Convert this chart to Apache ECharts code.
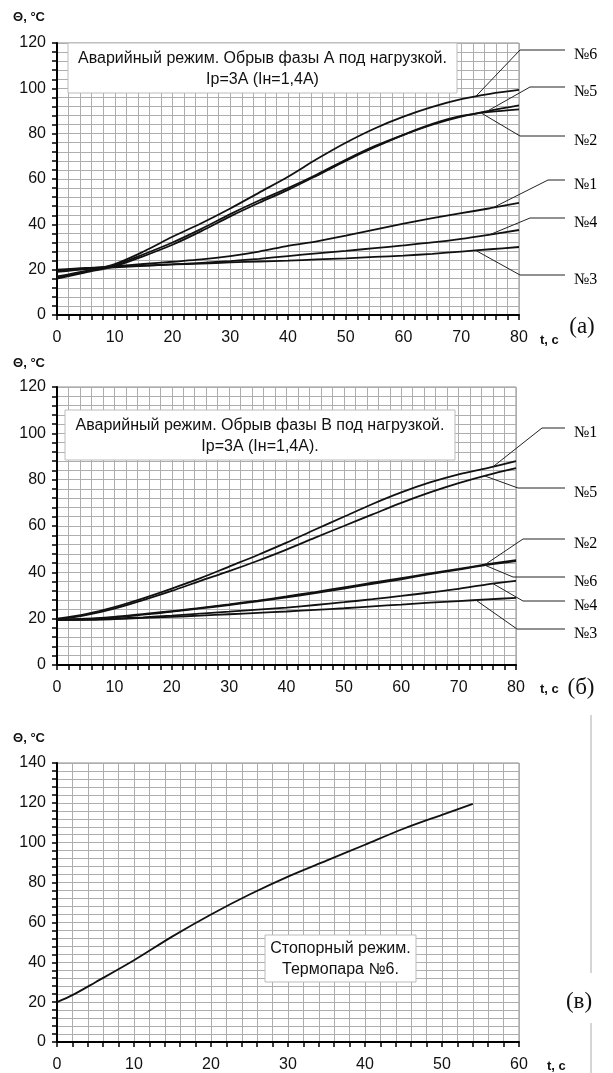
<!DOCTYPE html>
<html>
<head>
<meta charset="utf-8">
<script src="https://cdn.jsdelivr.net/npm/echarts@6/dist/echarts.min.js"></script>
<style>
html,body{margin:0;padding:0;background:#fff}
#main{width:613px;height:1073px}
</style>
</head>
<body>
<div id="main"></div>
<script>
// время, с
var tAB = [0,5,10,15,20,25,30,35,40,45,50,55,60,65,70,75,80];
var tC = [0,2,5,10,15,20,25,30,35,40,45,50,54];

// (а) обрыв фазы А, термопары №1..№6
var a1 = [19.5,20.5,21.5,22.5,23.5,24.5,26,28,30.5,32.5,35,37.7,40.3,42.7,44.9,47.1,49.5];
var a2 = [16,18.8,21.5,26,31,37,43.5,49.5,55.2,61.5,68,74,79.5,84.3,87.8,89.6,90.7];
var a3 = [20,20.8,21.3,21.8,22.3,22.7,23.2,23.6,24,24.5,25,25.6,26.2,27,28,29,30];
var a4 = [19,20.3,21,21.7,22.3,23,23.8,24.8,26,27.2,28.3,29.5,30.7,32,33.6,35.5,37.5];
var a5 = [16.5,19,22,26.8,32,38,44.5,50.5,56,62,68.5,74.5,79.5,84,87.5,90.2,92.5];
var a6 = [17,19.5,22.5,28,34.5,40.5,47,54,61,68.8,76,82.3,87.5,91.8,95.2,97.6,99.3];

// (б) обрыв фазы В
var b1 = [20,22,25,28.8,33,37.5,42.5,47.5,52.8,58.5,64,69.5,74.5,78.8,82.3,85,88];
var b2 = [19.5,20,20.8,22,23.2,24.7,26.2,27.8,29.6,31.5,33.5,35.5,37.5,39.5,41.5,43.5,45.3];
var b3 = [19.5,19.5,19.8,20.3,20.8,21.3,21.9,22.5,23.1,23.8,24.5,25.3,26.1,26.9,27.6,28.3,29];
var b4 = [19.5,19.6,20,20.6,21.3,22.2,23,23.9,24.8,25.9,27.1,28.4,29.8,31.3,32.9,34.8,36.3];
var b5 = [19.5,21.5,24.3,28,32,36.3,40.5,45,49.8,55,60,65,70,74.5,78.5,82,85];
var b6 = [19.5,19.8,20.5,21.7,23,24.4,25.9,27.5,29.2,31,33,35,37,39.2,41.2,43.2,44.8];

// (в) стопорный режим, термопара №6
var c6 = [20,23.5,30,41,53,64,74,83,91,99,107,114,119.5];

var names = ['№1','№2','№3','№4','№5','№6'];

var chart = echarts.init(document.getElementById('main'));

function pairs(t, v) {
	var out = [];
	for (var i = 0; i < t.length; i++) out.push([t[i], v[i]]);
	return out;
}

var gridColor = '#aeaeae';

function makeX(g, max) {
	return {
		type: 'value', gridIndex: g, min: 0, max: max, interval: 10,
		axisLine: {show: true, onZero: false, lineStyle: {color: '#000', width: 2}},
		axisTick: {show: true, inside: false, length: 5, lineStyle: {color: '#000', width: 1.5}},
		minorTick: {show: true, splitNumber: 5, length: 5, lineStyle: {color: '#000', width: 1.5}},
		axisLabel: {color: '#111', fontSize: 16, fontFamily: 'Liberation Sans', margin: 15},
		splitLine: {show: true, lineStyle: {color: gridColor, width: 1}},
		minorSplitLine: {show: true, lineStyle: {color: gridColor, width: 1}}
	};
}

function makeY(g, max) {
	return {
		type: 'value', gridIndex: g, min: 0, max: max, interval: 20,
		axisLine: {show: true, onZero: false, lineStyle: {color: '#000', width: 2}},
		axisTick: {show: true, inside: false, length: 5, lineStyle: {color: '#000', width: 1.5}},
		minorTick: {show: true, splitNumber: 5, length: 5, lineStyle: {color: '#000', width: 1.5}},
		axisLabel: {color: '#111', fontSize: 16, fontFamily: 'Liberation Sans', margin: 11},
		splitLine: {show: true, lineStyle: {color: gridColor, width: 1}},
		minorSplitLine: {show: true, lineStyle: {color: gridColor, width: 1}}
	};
}

function line(name, g, t, v) {
	return {
		name: name, type: 'line', xAxisIndex: g, yAxisIndex: g,
		data: pairs(t, v), smooth: 0.3, showSymbol: false, symbol: 'none',
		lineStyle: {color: '#111', width: 1.8}, silent: true
	};
}

var seriesA = [a1, a2, a3, a4, a5, a6];
var seriesB = [b1, b2, b3, b4, b5, b6];
var series = [];
for (var i = 0; i < 6; i++) series.push(line(names[i], 0, tAB, seriesA[i]));
for (var i = 0; i < 6; i++) series.push(line(names[i], 1, tAB, seriesB[i]));
series.push(line('№6', 2, tC, c6));

var gridStyle = {show: true, borderColor: '#8a8a8a', borderWidth: 1, backgroundColor: '#fff'};

var option = {
	backgroundColor: '#fff',
	animation: false,
	grid: [
		Object.assign({left: 57, top: 43, width: 462, height: 272}, gridStyle),
		Object.assign({left: 57, top: 387, width: 459, height: 278}, gridStyle),
		Object.assign({left: 57, top: 763, width: 462, height: 279}, gridStyle)
	],
	xAxis: [makeX(0, 80), makeX(1, 80), makeX(2, 60)],
	yAxis: [makeY(0, 120), makeY(1, 120), makeY(2, 140)],
	series: series
};
chart.setOption(option);

// подписи термопар: [серия, t точки на кривой, излом, конец выноски]
var calloutsA = [
	[5, 72.5, [520, 50], [565, 50]],
	[4, 74.5, [530, 87], [565, 87]],
	[1, 73.5, [520, 136], [565, 136]],
	[0, 75.5, [548, 180], [565, 180]],
	[3, 75, [530, 218], [565, 218]],
	[2, 72.5, [520, 275], [565, 275]]
];
var calloutsB = [
	[0, 76, [542, 428], [565, 428]],
	[4, 74.5, [518, 488], [565, 488]],
	[1, 74.6, [523, 539], [565, 539]],
	[5, 74.6, [513, 577], [565, 577]],
	[3, 76, [523, 601], [565, 601]],
	[2, 73, [517, 629], [565, 629]]
];

function interp(t, v, x) {
	for (var i = 1; i < t.length; i++) {
		if (x <= t[i]) return v[i-1] + (v[i] - v[i-1]) * (x - t[i-1]) / (t[i] - t[i-1]);
	}
	return v[v.length - 1];
}

var graphics = [];
function addCallouts(list, g, data) {
	list.forEach(function(c) {
		var p = chart.convertToPixel({gridIndex: g}, [c[1], interp(tAB, data[c[0]], c[1])]);
		graphics.push({
			type: 'polyline', z: 10, silent: true,
			shape: {points: [p, c[2], c[3]]},
			style: {stroke: '#222', lineWidth: 1, fill: null}
		});
		graphics.push({
			type: 'text', z: 10, silent: true,
			style: {text: names[c[0]], x: 574, y: c[3][1] + 5, fill: '#000',
				font: '16px "Liberation Serif"', textAlign: 'left', textVerticalAlign: 'middle'}
		});
	});
}
addCallouts(calloutsA, 0, seriesA);
addCallouts(calloutsB, 1, seriesB);

function box(x, y, w, h, lines, dy) {
	graphics.push({
		type: 'rect', z: 5, silent: true,
		shape: {x: x, y: y, width: w, height: h},
		style: {fill: '#fff', stroke: '#bbb', lineWidth: 1}
	});
	lines.forEach(function(s, k) {
		graphics.push({
			type: 'text', z: 6, silent: true,
			style: {text: s, x: x + w / 2, y: y + dy + k * 21, fill: '#111',
				font: '16px "Liberation Sans"', textAlign: 'center', textVerticalAlign: 'middle'}
		});
	});
}
box(68, 43, 389, 50, ['Аварийный режим. Обрыв фазы А под нагрузкой.', 'Iр=3А (Iн=1,4А)'], 16);
box(65, 410, 390, 50, ['Аварийный режим. Обрыв фазы В под нагрузкой.', 'Iр=3А (Iн=1,4А).'], 16);
box(265, 935, 151, 47, ['Стопорный режим.', 'Термопара №6.'], 14);

function txt(s, x, y, font, align) {
	graphics.push({
		type: 'text', z: 10, silent: true,
		style: {text: s, x: x, y: y, fill: '#111', font: font,
			textAlign: align || 'left', textVerticalAlign: 'middle'}
	});
}
var unitFont = 'bold 13px "Liberation Sans"';
txt('Θ, °C', 45, 17, unitFont, 'right');
txt('Θ, °C', 45, 363, unitFont, 'right');
txt('Θ, °C', 45, 738, unitFont, 'right');
txt('t, c', 540, 340, unitFont);
txt('t, c', 540, 689, unitFont);
txt('t, c', 547, 1066, unitFont);
var capFont = '23px "Liberation Serif"';
txt('(а)', 582, 327, capFont, 'center');
txt('(б)', 581, 688, capFont, 'center');
txt('(в)', 579, 1002, capFont, 'center');

graphics.push({type: 'line', silent: true, shape: {x1: 591, y1: 715, x2: 591, y2: 973}, style: {stroke: '#aaa', lineWidth: 1}});
graphics.push({type: 'line', silent: true, shape: {x1: 591, y1: 1023, x2: 591, y2: 1073}, style: {stroke: '#aaa', lineWidth: 1}});

chart.setOption({graphic: graphics});
</script>
</body>
</html>
